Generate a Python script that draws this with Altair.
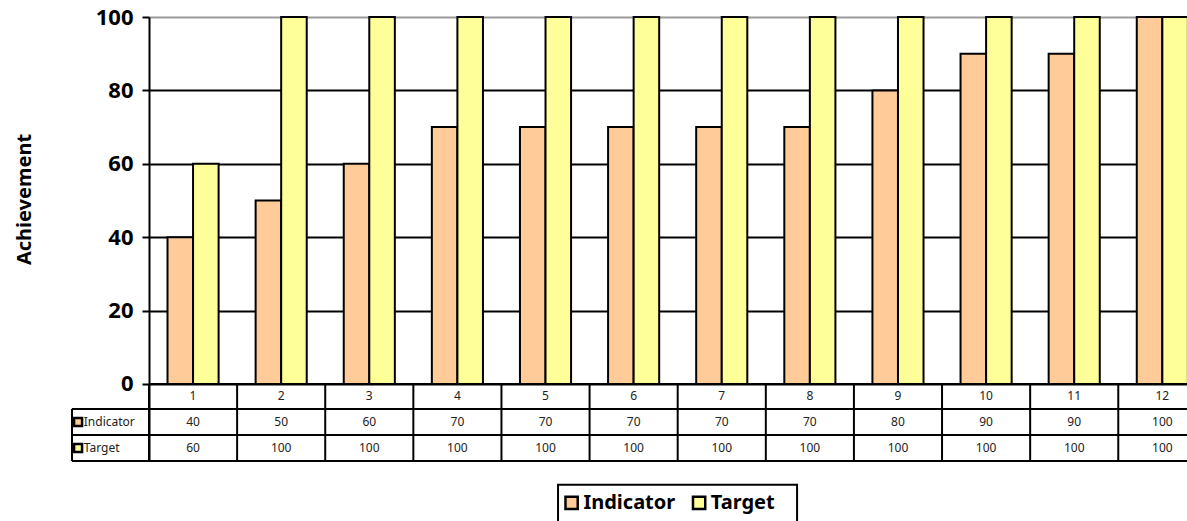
import altair as alt
import pandas as pd

# ---------------- data ----------------
categories = list(range(1, 13))
indicator = [40, 50, 60, 70, 70, 70, 70, 70, 80, 90, 90, 100]
target = [60, 100, 100, 100, 100, 100, 100, 100, 100, 100, 100, 100]
series_names = ["Indicator", "Target"]
series_colors = ["#FFCC99", "#FFFF99"]
y_ticks = [0, 20, 40, 60, 80, 100]
y_title = "Achievement"

# ---------------- layout (data units) ----------------
FONT = "Noto Sans"
BAR_W = 0.29
X_DOM = [0.5, 12.28]
Y_DOM = [-21, 100]
ROW_LINES = [0, -6.81, -13.9, -21]
ROW_TEXT = [-3.4, -10.36, -17.44]
LABEL_X0 = -0.374
X_END = 12.5

xs = alt.Scale(domain=X_DOM, nice=False, zero=False)
ys = alt.Scale(domain=Y_DOM, nice=False, zero=False)

yaxis = alt.Axis(
    values=y_ticks, grid=True,
    gridColor=alt.condition("datum.value == 100", alt.value("#999999"), alt.value("black")),
    gridWidth=2, domainColor="black", domainWidth=2,
    tickColor="black", tickWidth=2, tickSize=7, labelPadding=9,
    labelFont=FONT, labelFontSize=22, labelFontWeight="bold", labelColor="black",
    title=y_title, titleFont=FONT, titleFontSize=20, titleFontWeight="bold",
    titleColor="black", titleX=-125, titleY=182, titleAngle=-90,
    titleAlign="center", titleBaseline="middle",
)


def X(field):
    return alt.X(field, scale=xs, axis=None)


def Y(field):
    return alt.Y(field, scale=ys, axis=yaxis)


bars_df = pd.DataFrame({
    "cat": categories * 2,
    "series": [series_names[0]] * len(categories) + [series_names[1]] * len(categories),
    "value": indicator + target,
})

bars = alt.Chart(bars_df).transform_calculate(
    x0=f"datum.cat + (datum.series == '{series_names[0]}' ? {-BAR_W} : 0)",
    x1=f"datum.cat + (datum.series == '{series_names[0]}' ? 0 : {BAR_W})",
).mark_rect(stroke="black", strokeWidth=2).encode(
    x=X("x0:Q"),
    x2="x1:Q",
    y=Y("value:Q"),
    y2=alt.datum(0),
    color=alt.Color("series:N", scale=alt.Scale(domain=series_names, range=series_colors), legend=None),
)

# table lines
hl = pd.DataFrame({
    "x": [0.5] + [LABEL_X0] * 3,
    "x2": [X_END] * 4,
    "value": ROW_LINES,
})
hrules = alt.Chart(hl).mark_rule(color="black", strokeWidth=2).encode(
    x=X("x:Q"), x2="x2:Q", y=Y("value:Q")
)
vl = pd.DataFrame({
    "x": [0.5 + k for k in range(13)] + [LABEL_X0],
    "value": [ROW_LINES[0]] * 13 + [ROW_LINES[1]],
    "y2": [ROW_LINES[3]] * 14,
})
vrules = alt.Chart(vl).mark_rule(color="black", strokeWidth=2).encode(
    x=X("x:Q"), y=Y("value:Q"), y2="y2:Q"
)

# table text
cells = []
for i, c in enumerate(categories):
    cells.append({"x": c, "value": ROW_TEXT[0], "t": str(c)})
    cells.append({"x": c, "value": ROW_TEXT[1], "t": str(indicator[i])})
    cells.append({"x": c, "value": ROW_TEXT[2], "t": str(target[i])})
cell_text = alt.Chart(pd.DataFrame(cells)).mark_text(
    font=FONT, fontSize=12, color="#222222", baseline="middle"
).encode(x=X("x:Q"), y=Y("value:Q"), text="t:N")

# row labels with swatches
row_lab = pd.DataFrame({
    "series": series_names,
    "value": ROW_TEXT[1:],
    "sx": [-0.305, -0.305],
    "tx": [-0.24, -0.24],
})
row_sw = alt.Chart(row_lab).mark_point(shape="square", filled=True, size=64, stroke="black",
                                       strokeWidth=2.5, opacity=1).encode(
    x=X("sx:Q"), y=Y("value:Q"),
    fill=alt.Fill("series:N", scale=alt.Scale(domain=series_names, range=series_colors), legend=None),
)
row_tx = alt.Chart(row_lab).mark_text(font=FONT, fontSize=12, color="#222222", align="left",
                                      baseline="middle").encode(
    x=X("tx:Q"), y=Y("value:Q"), text="series:N"
)

# legend
leg_box = alt.Chart(pd.DataFrame({"x": [5.142], "x2": [7.855], "value": [-27.5], "y2": [-40]})).mark_rect(
    fill="white", stroke="black", strokeWidth=2
).encode(x=X("x:Q"), x2="x2:Q", y=Y("value:Q"), y2="y2:Q")
leg_df = pd.DataFrame({
    "series": series_names,
    "sx": [5.296, 6.743],
    "tx": [5.43, 6.875],
    "value": [-32.43, -32.43],
})
leg_sw = alt.Chart(leg_df).mark_point(shape="square", filled=True, size=150, stroke="black",
                                      strokeWidth=2.5, opacity=1).encode(
    x=X("sx:Q"), y=Y("value:Q"),
    fill=alt.Fill("series:N", scale=alt.Scale(domain=series_names, range=series_colors), legend=None),
)
leg_tx = alt.Chart(leg_df).mark_text(font=FONT, fontSize=20, fontWeight="bold", color="black",
                                     align="left", baseline="middle").encode(
    x=X("tx:Q"), y=Y("value:Q"), text="series:N"
)

chart = alt.layer(bars, hrules, vrules, cell_text, row_sw, row_tx, leg_box, leg_sw, leg_tx).properties(
    width=1038, height=444,
    autosize=alt.AutoSizeParams(type="none"),
    padding={"left": 149, "top": 17, "right": 0, "bottom": 60},
    background="white",
).configure_view(stroke=None)

chart.save("out.html", embed_options={"renderer": "svg", "actions": False})
